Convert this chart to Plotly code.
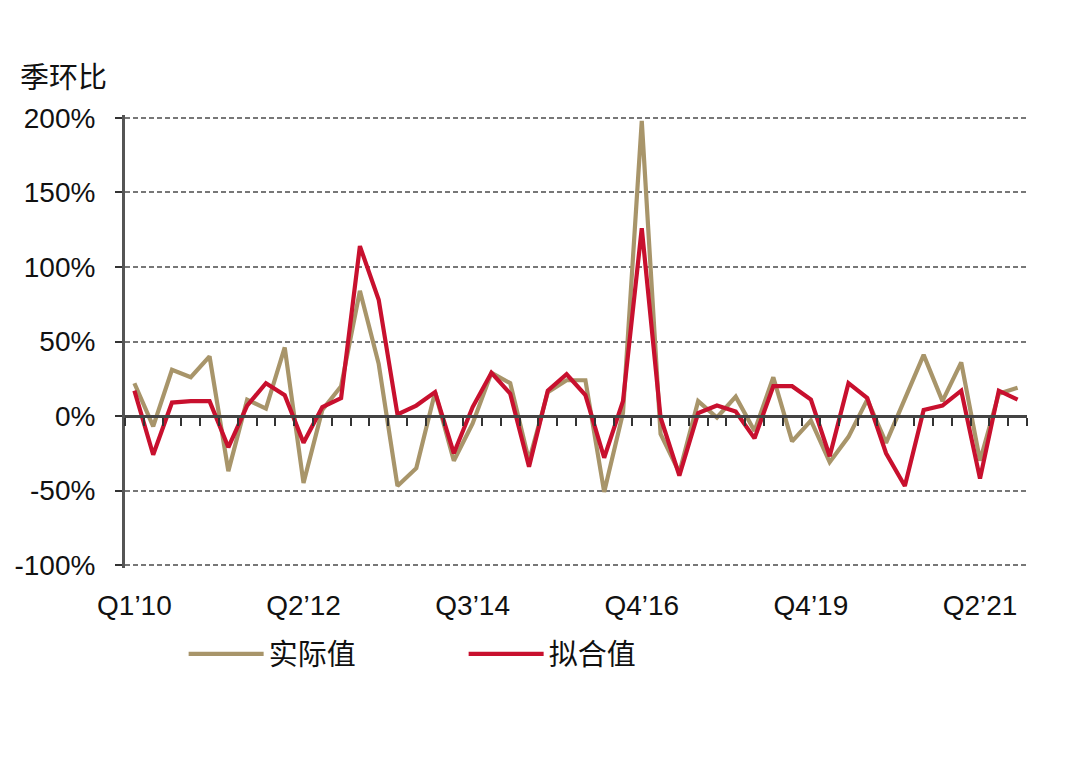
import plotly.graph_objects as go

# ---- data ----
quarter_index = list(range(48))
tick_positions = [0, 9, 18, 27, 36, 45]
tick_labels = ["Q1\u201910", "Q2\u201912", "Q3\u201914", "Q4\u201916", "Q4\u201919", "Q2\u201921"]

actual = [22, -7, 31, 26, 40, -37, 11, 5, 46, -45,
          4, 20, 84, 35, -47, -35, 16, -30, -5, 29,
          22, -30, 16, 24, 24, -51, 2, 198, -12, -38,
          10, -1, 13, -10, 26, -17, -3, -31, -14, 11,
          -18, 12, 41, 10, 36, -30, 15, 19]
fitted = [17, -26, 9, 10, 10, -21, 7, 22, 14, -18,
          6, 12, 114, 78, 1, 7, 16, -25, 6, 29,
          15, -34, 17, 28, 14, -28, 10, 126, -1, -40,
          2, 7, 3, -15, 20, 20, 11, -27, 22, 12,
          -25, -47, 4, 7, 17, -42, 17, 11]

y_ticks = [-100, -50, 0, 50, 100, 150, 200]
y_tick_labels = [f"{v}%" for v in y_ticks]

series_names = ["实际值", "拟合值"]
TAN = "#A8956A"
RED = "#C8102E"
FONT = "Liberation Sans, Helvetica, Arial, Noto Sans CJK SC, sans-serif"
FS = 28

fig = go.Figure()
fig.add_trace(go.Scatter(x=quarter_index, y=actual, mode="lines", name=series_names[0],
                         line=dict(color=TAN, width=4.2)))
fig.add_trace(go.Scatter(x=quarter_index, y=fitted, mode="lines", name=series_names[1],
                         line=dict(color=RED, width=4.2)))
# empty helper trace so the label axis (x2) is drawn
fig.add_trace(go.Scatter(x=[None], y=[None], xaxis="x2", yaxis="y", showlegend=False,
                         hoverinfo="skip", mode="lines"))

n = len(quarter_index)
boundaries = [i - 0.5 for i in range(n + 1)]
xr = [-0.5, n - 0.5]
pad_units = 2.0  # ~3px so edge gridlines stay visible
yr = [y_ticks[0] - pad_units, y_ticks[-1] + pad_units]
zero_pos = (0 - yr[0]) / (yr[1] - yr[0])

fig.update_layout(
    width=1080, height=760,
    margin=dict(l=125, r=53, t=115, b=192, pad=0),
    paper_bgcolor="white", plot_bgcolor="white",
    font=dict(family=FONT, size=FS, color="#111111"),
    showlegend=True,
    legend=dict(orientation="h", x=0.065, xanchor="left", y=-0.19, yanchor="middle",
                entrywidth=190, entrywidthmode="pixels", font=dict(size=29, family=FONT),
                itemwidth=75, bgcolor="rgba(0,0,0,0)"),
    xaxis=dict(range=xr, anchor="free", position=zero_pos,
               showline=True, linecolor="#444444", linewidth=3,
               tickmode="array", tickvals=boundaries, showticklabels=False,
               ticks="outside", ticklen=8, tickwidth=2, tickcolor="#333333",
               showgrid=False, zeroline=False),
    xaxis2=dict(range=xr, overlaying="x", anchor="y", side="bottom",
                tickmode="array", tickvals=tick_positions, ticktext=tick_labels,
                ticks="", showline=False, showgrid=False, zeroline=False,
                ticklabelstandoff=18, tickfont=dict(size=FS, family=FONT)),
    yaxis=dict(range=yr, tickmode="array", tickvals=y_ticks, ticktext=y_tick_labels,
               showgrid=True, gridcolor="#777777", gridwidth=2, griddash="5px,3px",
               showline=True, linecolor="#555555", linewidth=3,
               ticks="outside", ticklen=7, tickwidth=2, tickcolor="#333333",
               zeroline=False, ticklabelstandoff=14, tickfont=dict(size=FS, family=FONT)),
    annotations=[dict(text="季环比", xref="paper", yref="paper", x=(18 - 125) / 902, y=1.088,
                      xanchor="left", yanchor="middle", showarrow=False,
                      font=dict(size=29, family="Noto Sans CJK SC", color="#111111"))],
)

fig.write_html("out.html", config={"displayModeBar": False},
               post_script="document.body.style.margin='0';")
